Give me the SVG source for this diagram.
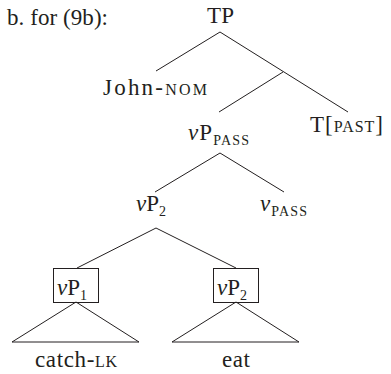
<svg xmlns="http://www.w3.org/2000/svg" width="391" height="374" viewBox="0 0 391 374">
<style>
.t{font-family:'Liberation Serif','DejaVu Serif',serif;font-size:23px;fill:#231f20}
.sc{font-size:16px}
.sub{font-size:14px}
.it{font-style:italic}
.ln{stroke:#231f20;stroke-width:1;fill:none}
.box{stroke:#231f20;stroke-width:1;fill:none}
</style>
<rect width="391" height="374" fill="#fff"/>
<g id="label"><text class="t" x="7" y="25" textLength="101">b. for (9b):</text></g>
<g id="connectors">
<line class="ln" x1="220" y1="32" x2="156" y2="71"/>
<line class="ln" x1="220" y1="32" x2="348" y2="112"/>
<line class="ln" x1="283" y1="72" x2="219" y2="112"/>
<line class="ln" x1="220" y1="153" x2="155" y2="192"/>
<line class="ln" x1="220" y1="153" x2="284" y2="192"/>
<line class="ln" x1="156" y1="228" x2="77" y2="268"/>
<line class="ln" x1="156" y1="228" x2="236" y2="268"/>
</g>
<g id="TP"><text class="t" x="207" y="23" textLength="27">TP</text></g>
<g id="John"><text class="t" x="103" y="95" textLength="104">John-<tspan class="sc">NOM</tspan></text></g>
<g id="vPpass"><text class="t" x="188" y="140" textLength="61"><tspan class="it">v</tspan>P<tspan class="sub" dy="5">PASS</tspan></text></g>
<g id="Tpast"><text class="t" x="310" y="132" textLength="73">T[<tspan class="sc">PAST</tspan>]</text></g>
<g id="vP2top"><text class="t" x="136" y="211"><tspan class="it">v</tspan>P<tspan class="sub" dy="5">2</tspan></text></g>
<g id="vpass"><text class="t" x="260" y="211" textLength="47"><tspan class="it">v</tspan><tspan class="sub" dy="5">PASS</tspan></text></g>
<g id="vP1box">
<rect class="box" x="53.5" y="268.5" width="45" height="34"/>
<text class="t" x="57" y="295"><tspan class="it">v</tspan>P<tspan class="sub" dy="5">1</tspan></text>
<polygon class="ln" points="76,302 12,342 139,342"/>
<text class="t" x="35" y="367" textLength="82">catch-<tspan class="sc">LK</tspan></text>
</g>
<g id="vP2box">
<rect class="box" x="213.5" y="268.5" width="45" height="34"/>
<text class="t" x="217" y="295"><tspan class="it">v</tspan>P<tspan class="sub" dy="5">2</tspan></text>
<polygon class="ln" points="236,302 172,342 299,342"/>
<text class="t" x="222" y="367" textLength="28">eat</text>
</g>
</svg>
